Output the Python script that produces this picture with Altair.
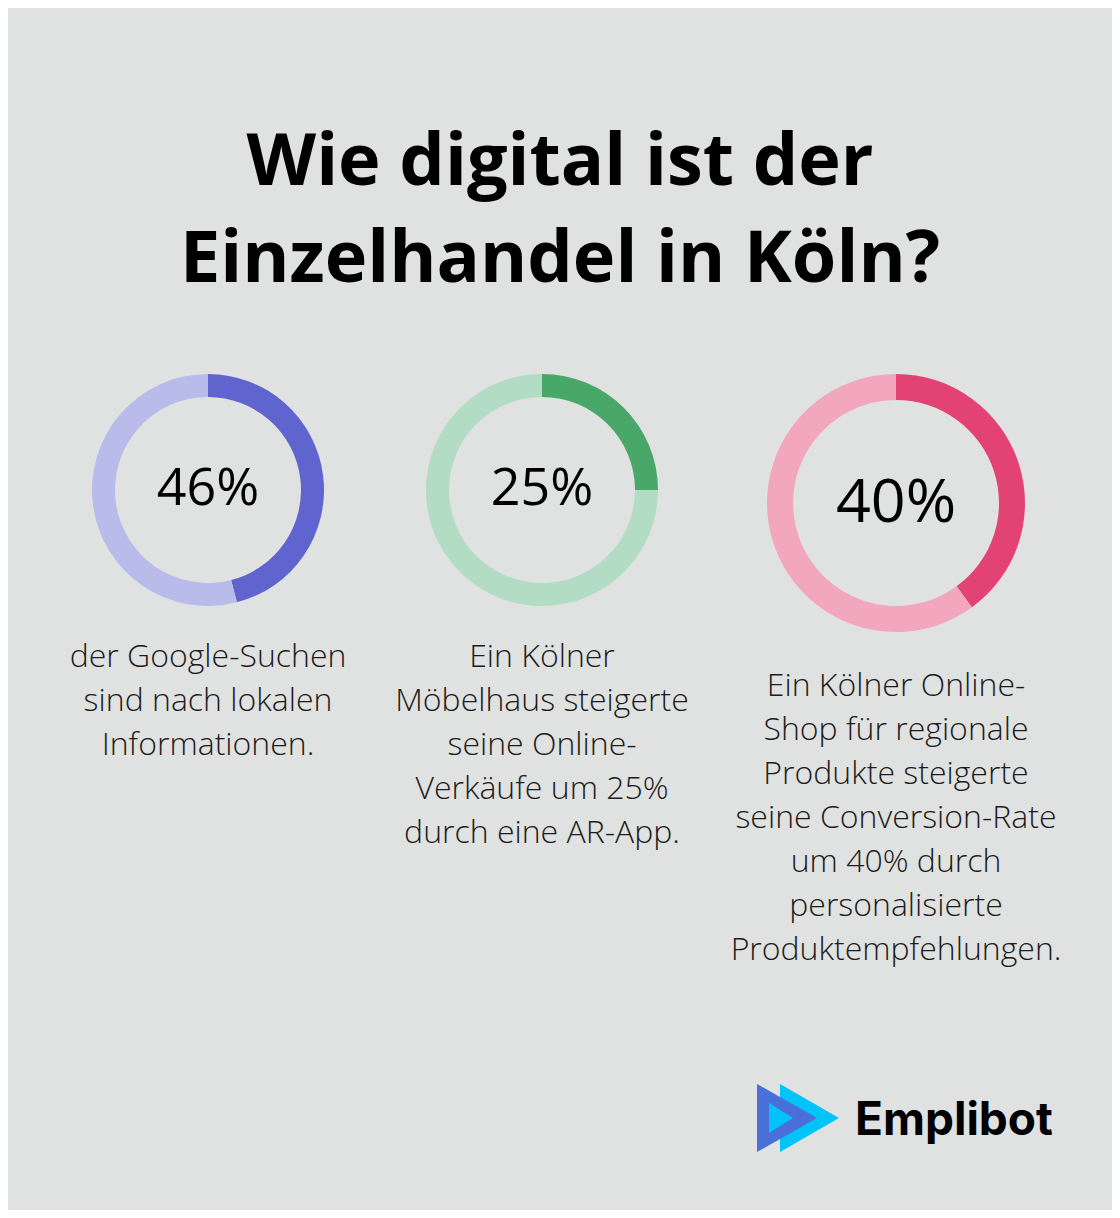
import math
import altair as alt
import pandas as pd

# ---------------- data ----------------
values = [46, 25, 40]
value_labels = ["46%", "25%", "40%"]
captions = [
    "der Google-Suchen\nsind nach lokalen\nInformationen.",
    "Ein Kölner\nMöbelhaus steigerte\nseine Online-\nVerkäufe um 25%\ndurch eine AR-App.",
    "Ein Kölner Online-\nShop für regionale\nProdukte steigerte\nseine Conversion-Rate\num 40% durch\npersonalisierte\nProduktempfehlungen.",
]
dark_colors = ["#6064cf", "#4aa76a", "#e34374"]
light_colors = ["#b9bcea", "#b2dcc3", "#f2a7bf"]
title_text = "Wie digital ist der\nEinzelhandel in Köln?"
brand = "Emplibot"

# ---------------- layout (screen pixels) ----------------
cx = [208, 542, 896]
cy = [490, 490, 503]
r_out = [116, 116, 129]
r_in = [93, 93, 103]
label_size = [52, 52, 61]
label_base = [505, 505, 522]
caption_base = [667, 667, 696]

BG = "#e0e2e1"
XS = alt.Scale(domain=[8, 1112], nice=False, zero=False)
YS = alt.Scale(domain=[8, 1210], nice=False, zero=False, reverse=True)


def pos():
    return dict(
        x=alt.X("x:Q", scale=XS, axis=None),
        y=alt.Y("y:Q", scale=YS, axis=None),
    )


# donut segments
arc_rows = []
for i, v in enumerate(values):
    a = 2 * math.pi * v / 100
    arc_rows.append(dict(x=cx[i], y=cy[i], t0=0.0, t1=a, ro=r_out[i], ri=r_in[i], col=dark_colors[i]))
    arc_rows.append(dict(x=cx[i], y=cy[i], t0=a, t1=2 * math.pi, ro=r_out[i], ri=r_in[i], col=light_colors[i]))
arcs = alt.Chart(pd.DataFrame(arc_rows)).mark_arc(strokeWidth=0).encode(
    **pos(),
    theta=alt.Theta("t0:Q", scale=None, stack=None),
    theta2=alt.Theta2("t1:Q"),
    radius=alt.Radius("ro:Q", scale=None),
    radius2=alt.Radius2("ri:Q"),
    color=alt.Color("col:N", scale=None),
)

# percentage labels
lab_df = pd.DataFrame(dict(x=cx, y=label_base, t=value_labels, fs=label_size))
labels = alt.Chart(lab_df).mark_text(
    font="Open Sans", fontWeight=400, align="center", baseline="alphabetic", color="#000000"
).encode(**pos(), text="t:N", size=alt.Size("fs:Q", scale=None))

# captions
cap_df = pd.DataFrame(dict(x=cx, y=caption_base, t=captions))
caps = alt.Chart(cap_df).mark_text(
    font="Open Sans", fontWeight=300, fontSize=32, lineHeight=44, lineBreak="\n",
    align="center", baseline="alphabetic", color="#1c1c1c"
).encode(**pos(), text="t:N")

# title
title_df = pd.DataFrame(dict(x=[560], y=[185], t=[title_text]))
title = alt.Chart(title_df).mark_text(
    font="Open Sans", fontWeight="bold", fontSize=72, lineHeight=97, lineBreak="\n",
    align="center", baseline="alphabetic", color="#000000"
).encode(**pos(), text="t:N")

# logo
logo_shapes = [
    ("M-29.5,-34L29.5,0L-29.5,34Z", 809.5, 1118, "#00c3f7"),
    ("M-30,-34L30,0L-30,34Z", 787, 1118, "#4a6fd8"),
    ("M-12,-15L12,0L-12,15Z", 781, 1118, "#00c3f7"),
]
logo_layers = []
for path, lx, ly, c in logo_shapes:
    logo_layers.append(
        alt.Chart(pd.DataFrame(dict(x=[lx], y=[ly]))).mark_point(
            shape=path, size=4, filled=True, opacity=1, color=c, strokeWidth=0
        ).encode(**pos())
    )

brand_df = pd.DataFrame(dict(x=[855], y=[1135], t=[brand]))
brand_txt = alt.Chart(brand_df).mark_text(
    font="Inter", fontWeight="bold", fontSize=46, align="left", baseline="alphabetic",
    color="#000000"
).encode(**pos(), text="t:N")

chart = alt.layer(arcs, labels, caps, title, *logo_layers, brand_txt).properties(
    width=1104, height=1202, background=BG, padding=0,
    autosize=alt.AutoSizeParams(type="fit", contains="padding"),
).configure_view(stroke=None)

chart.save("out.html", embed_options={"renderer": "svg", "actions": False})
